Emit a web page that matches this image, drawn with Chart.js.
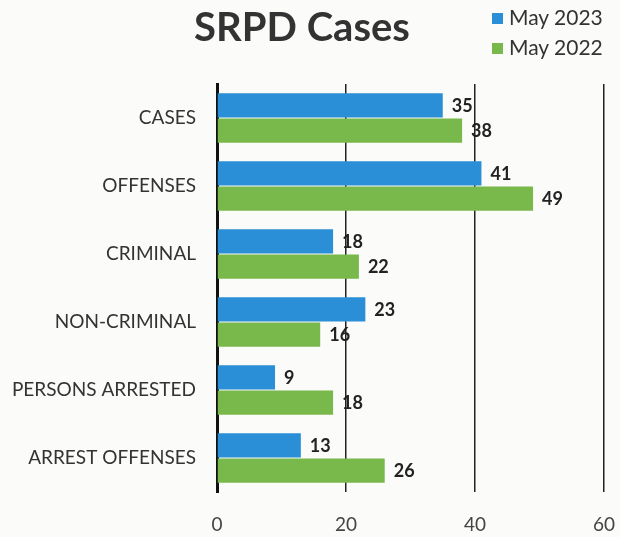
<!DOCTYPE html>
<html>
<head>
<meta charset="utf-8">
<script src="https://cdn.jsdelivr.net/npm/chart.js@4"></script>
<style>
  body { margin: 0; background: #fbfbfa; }
  #wrap { position: relative; width: 620px; height: 537px; }
  #legend { position: absolute; left: 492px; top: 2px; font-family: Lato, sans-serif; font-size: 21px; color: #333; }
  #legend div { height: 30px; line-height: 30px; }
  #legend span { display: inline-block; width: 11px; height: 11px; margin-right: 6px; vertical-align: 1px; }
</style>
</head>
<body>
<div id="wrap">
  <canvas id="casesChart" width="620" height="537"></canvas>
  <div id="legend"></div>
</div>
<script>
const categories = ['CASES', 'OFFENSES', 'CRIMINAL', 'NON-CRIMINAL', 'PERSONS ARRESTED', 'ARREST OFFENSES'];
const may2023 = [35, 41, 18, 23, 9, 13];
const may2022 = [38, 49, 22, 16, 18, 26];
const xTicks = [0, 20, 40, 60];

const seriesNames = ['May 2023', 'May 2022'];
const colors = ['#2a8fd6', '#79b84a'];

// value labels at the end of each bar
const valueLabels = {
  id: 'valueLabels',
  afterDatasetsDraw(chart) {
    const c = chart.ctx;
    c.save();
    c.font = 'bold 18px Lato, sans-serif';
    c.fillStyle = '#222';
    c.textBaseline = 'middle';
    chart.data.datasets.forEach((ds, i) => {
      chart.getDatasetMeta(i).data.forEach((bar, j) => {
        c.fillText(ds.data[j], bar.x + 9, bar.y + 1);
      });
    });
    c.restore();
  }
};

const ctx = document.getElementById('casesChart').getContext('2d');
const chart = new Chart(ctx, {
  type: 'bar',
  data: {
    labels: categories,
    datasets: [
      { label: seriesNames[0], data: may2023, backgroundColor: colors[0] },
      { label: seriesNames[1], data: may2022, backgroundColor: colors[1] }
    ]
  },
  options: {
    indexAxis: 'y',
    responsive: false,
    animation: false,
    layout: { padding: { left: 0, right: 16, bottom: 0, top: 0 } },
    datasets: { bar: { categoryPercentage: 0.74, barPercentage: 0.96 } },
    plugins: {
      legend: { display: false },
      tooltip: { enabled: false },
      title: {
        display: true,
        text: 'SRPD Cases',
        color: '#333',
        font: { family: 'Lato, sans-serif', size: 40, weight: 'bold' },
        padding: { top: 4, bottom: 32 }
      }
    },
    scales: {
      x: {
        min: 0,
        max: 60,
        afterBuildTicks(scale) { scale.ticks = xTicks.map(v => ({ value: v })); },
        afterFit(scale) {
          scale.height = 45;
          scale.paddingLeft = 0;
          scale.paddingRight = 0;
        },
        grid: { color: '#222', lineWidth: 1.5, drawTicks: false },
        border: { display: false },
        ticks: { color: '#444', padding: 21, maxRotation: 0, font: { family: 'Lato, sans-serif', size: 19 } }
      },
      y: {
        afterFit(scale) { scale.width = 217; },
        grid: { display: false },
        border: { display: true, color: '#111', width: 3 },
        ticks: { color: '#333', padding: 13, font: { family: 'Lato, sans-serif', size: 19 } }
      }
    }
  },
  plugins: [valueLabels]
});

document.getElementById('legend').innerHTML = seriesNames
  .map((n, i) => '<div><span style="background:' + colors[i] + '"></span>' + n + '</div>')
  .join('');
</script>
</body>
</html>
